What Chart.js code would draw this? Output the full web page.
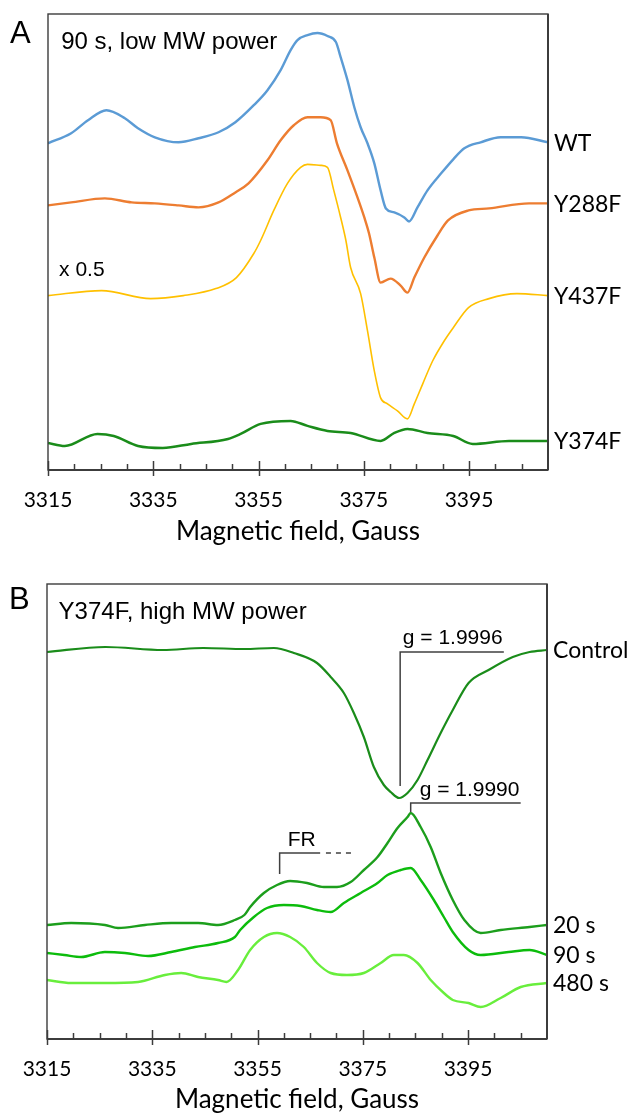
<!DOCTYPE html>
<html>
<head>
<meta charset="utf-8">
<title>EPR spectra</title>
<script src="https://cdn.jsdelivr.net/npm/chart.js@4.4.1/dist/chart.umd.min.js"></script>
<style>
  html, body { margin: 0; padding: 0; background: #fff; }
  canvas { display: block; }
</style>
</head>
<body>
<canvas id="chartA" width="635" height="560"></canvas>
<canvas id="chartB" width="635" height="555"></canvas>
<script>
// Field axis (Gauss)
const fieldMin = 3315;
const fieldMax = 3410;
const minorStep = 5;
const majorStep = 20;

// Panel A - 90 s, low MW power (intensity in arbitrary units)
const fieldWT = [3315.0, 3319.4, 3322.6, 3326.1, 3329.6, 3332.1, 3335.3, 3339.8, 3343.6, 3347.4, 3350.6, 3354.1, 3356.7, 3359.2, 3361.1, 3362.4, 3364.3, 3366.2, 3368.1, 3369.7, 3370.6, 3371.9, 3373.2, 3374.4, 3375.7, 3377.0, 3378.2, 3379.2, 3380.8, 3382.7, 3383.6, 3385.2, 3387.1, 3389.7, 3392.0, 3394.1, 3397.2, 3401.0, 3404.9, 3410.0];
const signalWT = [326, 336, 349, 359, 351, 341, 332, 327, 331, 337, 347, 364, 379, 399, 419, 429, 434, 436, 433, 427, 412, 389, 362, 342, 326, 306, 279, 261, 257, 252, 248, 262, 279, 296, 310, 321, 327, 332, 332, 327];

const fieldY288F = [3315.0, 3319.4, 3325.8, 3330.9, 3335.3, 3339.8, 3343.6, 3347.4, 3350.6, 3353.1, 3356.7, 3359.2, 3361.7, 3364.3, 3366.8, 3368.7, 3369.9, 3371.9, 3373.8, 3375.1, 3376.0, 3377.0, 3378.2, 3380.1, 3382.0, 3383.3, 3384.6, 3386.5, 3389.0, 3391.0, 3394.9, 3398.8, 3406.4, 3410.0];
const signalY288F = [264, 267, 271, 267, 266, 264, 262, 267, 277, 286, 309, 329, 344, 352, 352, 349, 326, 299, 272, 252, 236, 212, 187, 191, 184, 177, 192, 212, 234, 249, 259, 261, 266, 266];

const fieldY437F = [3315.0, 3325.2, 3334.5, 3340.7, 3346.9, 3350.8, 3354.1, 3355.4, 3357.9, 3360.5, 3363.0, 3364.3, 3366.8, 3368.1, 3369.3, 3370.6, 3371.6, 3372.5, 3374.4, 3375.7, 3377.0, 3378.2, 3379.5, 3381.4, 3383.3, 3384.6, 3386.2, 3388.1, 3390.3, 3392.0, 3394.9, 3398.8, 3404.1, 3410.0];
const signalY437F = [174, 179, 171, 174, 181, 192, 216, 229, 259, 286, 302, 305, 304, 302, 279, 252, 229, 202, 176, 139, 99, 72, 66, 59, 51, 66, 86, 109, 129, 142, 162, 171, 176, 174];

const fieldY374F = [3315.0, 3318.2, 3324.4, 3327.5, 3332.1, 3336.8, 3342.2, 3349.2, 3351.6, 3355.4, 3361.1, 3364.3, 3368.1, 3372.5, 3378.2, 3380.8, 3383.3, 3387.1, 3392.0, 3395.7, 3402.6, 3410.0];
const signalY374F = [27, 24, 36, 34, 24, 22, 26, 31, 36, 46, 49, 44, 39, 37, 29, 37, 41, 37, 34, 26, 29, 29];

// Panel B - Y374F, high MW power
const fieldControl = [3315.0, 3326.1, 3337.0, 3344.7, 3352.5, 3358.1, 3361.9, 3366.3, 3368.9, 3371.4, 3373.3, 3375.2, 3377.1, 3379.0, 3380.3, 3381.9, 3383.5, 3385.4, 3387.3, 3389.8, 3392.1, 3395.1, 3398.9, 3403.5, 3406.7, 3410.0];
const signalControl = [387, 392, 389, 391, 390, 391, 386, 376, 362, 346, 326, 302, 272, 254, 247, 241, 246, 259, 279, 306, 329, 356, 369, 382, 387, 389];

const field20s = [3315.0, 3319.6, 3326.0, 3328.5, 3333.6, 3338.6, 3343.7, 3347.5, 3350.7, 3352.5, 3353.6, 3356.2, 3358.7, 3361.2, 3364.4, 3367.6, 3370.1, 3372.7, 3375.2, 3377.8, 3379.7, 3381.6, 3383.5, 3384.1, 3386.0, 3387.9, 3389.8, 3392.1, 3394.3, 3397.4, 3401.2, 3406.7, 3410.0];
const signal20s = [114, 116, 114, 111, 114, 116, 116, 114, 119, 124, 132, 146, 154, 158, 156, 152, 152, 157, 169, 182, 196, 211, 222, 226, 212, 192, 166, 139, 119, 106, 109, 112, 114];

const field90s = [3315.0, 3318.3, 3321.5, 3326.0, 3329.8, 3334.2, 3338.6, 3343.1, 3347.5, 3350.7, 3351.7, 3354.3, 3356.8, 3360.0, 3363.2, 3366.3, 3368.9, 3371.4, 3374.6, 3377.8, 3379.7, 3382.2, 3384.1, 3386.0, 3388.5, 3390.4, 3392.1, 3395.1, 3397.4, 3402.7, 3406.7, 3410.0];
const signal90s = [86, 84, 82, 87, 86, 83, 87, 92, 96, 102, 109, 122, 131, 134, 133, 129, 127, 136, 146, 156, 164, 169, 171, 159, 139, 122, 107, 89, 84, 87, 89, 84];

const field480s = [3315.0, 3319.6, 3326.0, 3332.3, 3337.4, 3340.5, 3343.7, 3347.5, 3349.1, 3351.3, 3353.6, 3356.2, 3358.7, 3361.2, 3363.8, 3366.3, 3368.9, 3372.0, 3375.2, 3378.4, 3380.9, 3382.8, 3385.4, 3387.9, 3390.4, 3392.1, 3395.1, 3397.4, 3401.2, 3405.0, 3410.0];
const signal480s = [59, 56, 56, 57, 64, 66, 62, 59, 57, 69, 89, 102, 106, 102, 92, 76, 66, 64, 66, 76, 84, 84, 76, 59, 46, 39, 36, 32, 41, 52, 56];

// Build {x, y} points from a field array and a signal array
function toPoints(fields, values) {
    return fields.map((f, i) => ({ x: f, y: values[i] }));
}

function trace(label, fields, values, color, width) {
    return {
        label: label,
        data: toPoints(fields, values),
        borderColor: color,
        borderWidth: width,
        pointRadius: 0,
        cubicInterpolationMode: 'monotone',
        fill: false
    };
}

// Draws frame, tick marks, panel letter, trace names and annotations
const panelDecor = {
    id: 'panelDecor',
    afterDraw(chart, args, opts) {
        const { ctx, chartArea: a, scales: { x, y } } = chart;
        ctx.save();

        // frame
        ctx.strokeStyle = '#3c3c3c';
        ctx.lineWidth = 1.4;
        ctx.strokeRect(a.left, a.top, a.right - a.left, a.bottom - a.top);
        ctx.lineWidth = 2;
        ctx.beginPath();
        ctx.moveTo(a.left, a.bottom);
        ctx.lineTo(a.right, a.bottom);
        ctx.moveTo(a.right, a.top);
        ctx.lineTo(a.right, a.bottom);
        ctx.stroke();

        // tick marks
        ctx.lineWidth = 1.5;
        for (let v = fieldMin; v < fieldMax; v += minorStep) {
            const px = Math.round(x.getPixelForValue(v)) + 0.5;
            const major = (v - fieldMin) % majorStep === 0;
            ctx.beginPath();
            ctx.moveTo(px, a.bottom - (major ? 9 : 6));
            ctx.lineTo(px, a.bottom + (major ? 6 : 0));
            ctx.stroke();
        }

        // panel letter
        ctx.fillStyle = '#000';
        ctx.textBaseline = 'middle';
        ctx.textAlign = 'left';
        ctx.font = '31px "Liberation Sans", Arial, sans-serif';
        ctx.fillText(opts.letter, a.left - 38, a.top + opts.letterDy);

        // trace names at the right end of each trace
        ctx.font = '23px Lato, "Open Sans", sans-serif';
        chart.data.datasets.forEach(ds => {
            const last = ds.data[ds.data.length - 1];
            ctx.fillText(ds.label, a.right + 6, y.getPixelForValue(last.y) + 1);
        });

        // bracket lines
        ctx.strokeStyle = '#404040';
        ctx.lineWidth = 1.5;
        (opts.brackets || []).forEach(b => {
            ctx.setLineDash(b.dash || []);
            ctx.beginPath();
            b.pts.forEach((p, i) => {
                const px = x.getPixelForValue(p[0]);
                const py = y.getPixelForValue(p[1]);
                if (i === 0) ctx.moveTo(px, py); else ctx.lineTo(px, py);
            });
            ctx.stroke();
        });
        ctx.setLineDash([]);

        // notes
        (opts.notes || []).forEach(n => {
            ctx.font = n.font;
            ctx.textAlign = n.align || 'left';
            ctx.fillText(n.text, x.getPixelForValue(n.x), y.getPixelForValue(n.y));
        });
        ctx.restore();
    }
};

function makeOptions(pad, axisHeight, decor) {
    return {
        responsive: false,
        animation: false,
        events: [],
        layout: { padding: pad },
        scales: {
            x: {
                type: 'linear',
                min: fieldMin,
                max: fieldMax,
                grid: { display: false, drawTicks: false },
                border: { display: false },
                ticks: {
                    stepSize: minorStep,
                    autoSkip: false,
                    maxRotation: 0,
                    padding: 18,
                    color: '#000',
                    font: { family: 'Lato, "Open Sans", sans-serif', size: 21 },
                    callback: v => ((v - fieldMin) % majorStep === 0 ? String(v) : '')
                },
                title: {
                    display: true,
                    text: 'Magnetic field, Gauss',
                    color: '#000',
                    padding: { top: 0, bottom: 0 },
                    font: { family: 'Lato, "Open Sans", sans-serif', size: 26 }
                },
                afterFit: s => { s.height = axisHeight; }
            },
            y: { display: false, min: 0, max: 455 }
        },
        plugins: {
            legend: { display: false },
            tooltip: { enabled: false },
            panelDecor: decor
        }
    };
}

const noteFont = '24px "Liberation Sans", Arial, sans-serif';
const smallFont = '21px "Liberation Sans", Arial, sans-serif';

new Chart(document.getElementById('chartA'), {
    type: 'line',
    data: {
        datasets: [
            trace('WT', fieldWT, signalWT, '#5b9bd5', 2.4),
            trace('Y288F', fieldY288F, signalY288F, '#ed7d31', 2.4),
            trace('Y437F', fieldY437F, signalY437F, '#ffc000', 1.6),
            trace('Y374F', fieldY374F, signalY374F, '#1a8c1a', 2.5)
        ]
    },
    options: makeOptions({ left: 48, right: 87, top: 14, bottom: 13 }, 77, {
        letter: 'A',
        letterDy: 20,
        notes: [
            { text: '90 s, low MW power', x: 3317.5, y: 427, font: noteFont },
            { text: 'x 0.5', x: 3317.1, y: 199, font: smallFont }
        ]
    }),
    plugins: [panelDecor]
});

new Chart(document.getElementById('chartB'), {
    type: 'line',
    data: {
        datasets: [
            trace('Control', fieldControl, signalControl, '#1a8c1a', 2.2),
            trace('20 s', field20s, signal20s, '#1c9e1c', 2.4),
            trace('90 s', field90s, signal90s, '#0cbc0c', 2.4),
            trace('480 s', field480s, signal480s, '#68ee3c', 2.4)
        ]
    },
    options: makeOptions({ left: 47, right: 88, top: 24, bottom: 0 }, 76, {
        letter: 'B',
        letterDy: 16,
        notes: [
            { text: 'Y374F, high MW power', x: 3317.2, y: 427, font: noteFont },
            { text: 'g = 1.9996', x: 3382.6, y: 401, font: smallFont },
            { text: 'g = 1.9990', x: 3385.8, y: 249, font: smallFont },
            { text: 'FR', x: 3363.4, y: 199, align: 'center', font: smallFont }
        ],
        brackets: [
            { pts: [[3401.8, 387], [3382.1, 387], [3382.1, 253]] },
            { pts: [[3405.0, 236], [3384.1, 236], [3384.1, 227]] },
            { pts: [[3366.9, 186], [3359.2, 186], [3359.2, 165]] },
            { pts: [[3368.0, 186], [3372.8, 186]], dash: [5, 5] }
        ]
    }),
    plugins: [panelDecor]
});
</script>
</body>
</html>
